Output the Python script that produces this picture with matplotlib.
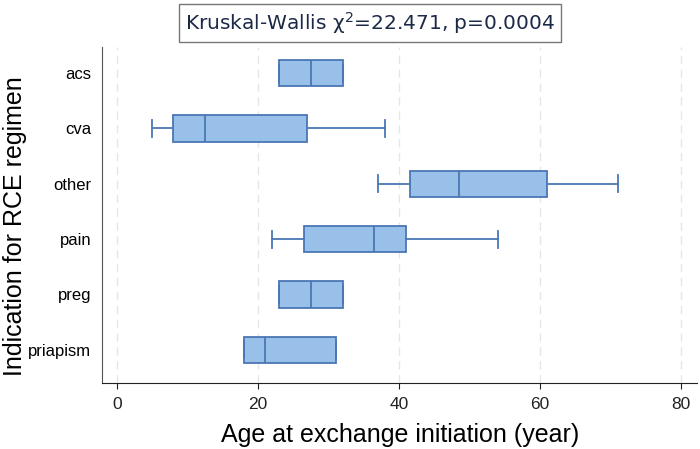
import matplotlib
matplotlib.use("Agg")
import matplotlib.pyplot as plt

plt.rcParams['font.family'] = ['Liberation Sans', 'DejaVu Sans']

categories = ['acs', 'cva', 'other', 'pain', 'preg', 'priapism']
whislo = [23, 5, 37, 22, 23, 18]
q1 = [23, 8, 41.5, 26.5, 23, 18]
med = [27.5, 12.5, 48.5, 36.5, 27.5, 21]
q3 = [32, 27, 61, 41, 32, 31]
whishi = [32, 38, 71, 54, 32, 31]
title = 'Kruskal-Wallis \u03c7$^2$=22.471, p=0.0004'

edge = '#4a77b4'
fill = '#98c0e8'

stats = []
for i in range(len(categories)):
    stats.append({'label': categories[i], 'whislo': whislo[i], 'q1': q1[i],
                  'med': med[i], 'q3': q3[i], 'whishi': whishi[i]})

fig = plt.figure(figsize=(7, 4.49), dpi=100)
ax = fig.add_axes([0.146, 0.147, 0.85, 0.748])

pos = list(range(1, len(categories) + 1))
ax.bxp(stats, positions=pos, vert=False, widths=0.48, patch_artist=True,
       showfliers=False, capwidths=0.31,
       boxprops=dict(facecolor=fill, edgecolor=edge, linewidth=1.3),
       medianprops=dict(color=edge, linewidth=1.3),
       whiskerprops=dict(color=edge, linewidth=1.3),
       capprops=dict(color=edge, linewidth=1.3))

ax.set_xlim(-2.1, 82.3)
ax.set_ylim(6.6, 0.53)
ax.set_xticks([0, 20, 40, 60, 80])
ax.set_yticks(pos)
ax.set_yticklabels(categories)
ax.tick_params(axis='y', length=0, labelsize=12, pad=8)
ax.tick_params(axis='x', length=4, labelsize=12.5, colors='#222222', pad=6)
ax.xaxis.grid(True, linestyle=(0, (6, 4)), color='#e6e6e6', linewidth=1)
ax.set_axisbelow(True)

for s in ['top', 'right']:
    ax.spines[s].set_visible(False)
ax.spines['left'].set_color('#555555')
ax.spines['bottom'].set_color('#222222')

ax.set_xlabel('Age at exchange initiation (year)', fontsize=18, labelpad=8)
ax.set_ylabel('Indication for RCE regimen', fontsize=18)
ax.yaxis.set_label_coords(-0.127, 0.466)

fig.text(0.529, 0.948, title, ha='center', va='center', fontsize=14.5,
         color='#1c2a48', family=['DejaVu Sans'],
         bbox=dict(boxstyle='square,pad=0.3', facecolor='white', edgecolor='#777777', linewidth=1))

fig.savefig('out.png', dpi=100)
